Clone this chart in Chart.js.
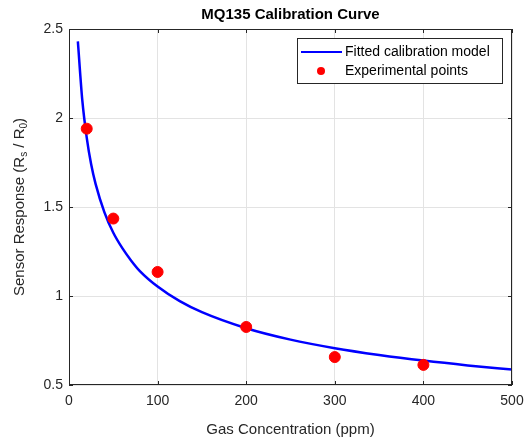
<!DOCTYPE html>
<html>
<head>
<meta charset="utf-8">
<script src="https://cdn.jsdelivr.net/npm/chart.js@4"></script>
<style>
  html, body { margin: 0; padding: 0; background: #fff; }
  #wrap { width: 527px; height: 441px; }
</style>
</head>
<body>
<div id="wrap"><canvas id="calChart" width="527" height="441"></canvas></div>
<script>
// valeurs
const modelX = [10, 15, 20, 25, 30, 40, 50, 60, 70, 80, 100, 125, 150, 200, 250, 300, 350, 400, 450, 500];
const modelY = [2.43, 2.10, 1.89, 1.74, 1.63, 1.47, 1.355, 1.27, 1.20, 1.14, 1.053, 0.971, 0.909, 0.819, 0.755, 0.707, 0.669, 0.637, 0.610, 0.587];
const expX = [20, 50, 100, 200, 300, 400];
const expY = [1.94, 1.435, 1.135, 0.826, 0.657, 0.613];
const xTicks = [0, 100, 200, 300, 400, 500];
const yTicks = [0.5, 1, 1.5, 2, 2.5];

const FONT = 'Arial, "Liberation Sans", Helvetica, sans-serif';

// cadre, titre, label Y avec indices, légende
const matlabLook = {
    id: 'matlabLook',
    afterDraw(chart) {
        const ctx = chart.ctx;
        const a = chart.chartArea;
        const xs = chart.scales.x, ys = chart.scales.y;
        ctx.save();
        // cadre
        ctx.strokeStyle = '#262626';
        ctx.lineWidth = 1;
        ctx.strokeRect(a.left + 0.5, a.top + 0.5, a.right - a.left - 1, a.bottom - a.top - 1);
        // petites graduations intérieures
        ctx.beginPath();
        xTicks.forEach(v => {
            const p = Math.round(xs.getPixelForValue(v)) + 0.5;
            ctx.moveTo(p, a.bottom); ctx.lineTo(p, a.bottom - 4);
            ctx.moveTo(p, a.top); ctx.lineTo(p, a.top + 4);
        });
        yTicks.forEach(v => {
            const p = Math.round(ys.getPixelForValue(v)) + 0.5;
            ctx.moveTo(a.left, p); ctx.lineTo(a.left + 4, p);
            ctx.moveTo(a.right, p); ctx.lineTo(a.right - 4, p);
        });
        ctx.stroke();

        // titre
        ctx.fillStyle = '#000';
        ctx.font = 'bold 15px ' + FONT;
        ctx.textAlign = 'center';
        ctx.textBaseline = 'middle';
        ctx.fillText('MQ135 Calibration Curve', (a.left + a.right) / 2, 15);

        // titre axe Y avec indices
        ctx.fillStyle = '#262626';
        ctx.translate(20, (a.top + a.bottom) / 2);
        ctx.rotate(-Math.PI / 2);
        const parts = [
            ['Sensor Response (R', 15, 0],
            ['s', 10, 4],
            [' / R', 15, 0],
            ['0', 10, 4],
            [')', 15, 0]
        ];
        let total = 0;
        parts.forEach(p => { ctx.font = p[1] + 'px ' + FONT; total += ctx.measureText(p[0]).width; });
        let x = -total / 2;
        ctx.textAlign = 'left';
        parts.forEach(p => {
            ctx.font = p[1] + 'px ' + FONT;
            ctx.fillText(p[0], x, p[2]);
            x += ctx.measureText(p[0]).width;
        });
        ctx.restore();

        // légende
        ctx.save();
        const lx = 297, ly = 38, lw = 205, lh = 45;
        ctx.fillStyle = '#fff';
        ctx.fillRect(lx, ly, lw, lh);
        ctx.strokeStyle = '#262626';
        ctx.lineWidth = 1;
        ctx.strokeRect(lx + 0.5, ly + 0.5, lw, lh);
        ctx.strokeStyle = '#0000ff';
        ctx.lineWidth = 2;
        ctx.beginPath();
        ctx.moveTo(lx + 4, ly + 14); ctx.lineTo(lx + 45, ly + 14);
        ctx.stroke();
        ctx.fillStyle = '#ff0000';
        ctx.beginPath();
        ctx.arc(lx + 24, ly + 33, 4, 0, Math.PI * 2);
        ctx.fill();
        ctx.fillStyle = '#000';
        ctx.font = '14px ' + FONT;
        ctx.textBaseline = 'middle';
        ctx.textAlign = 'left';
        ctx.fillText(chart.data.datasets[0].label, lx + 48, ly + 14);
        ctx.fillText(chart.data.datasets[1].label, lx + 48, ly + 33);
        ctx.restore();
    }
};

const ctx = document.getElementById('calChart').getContext('2d');
new Chart(ctx, {
    type: 'scatter',
    data: {
        datasets: [{
            type: 'line',
            label: 'Fitted calibration model',
            data: modelX.map((x, i) => ({ x: x, y: modelY[i] })),
            borderColor: '#0000ff',
            borderWidth: 2.5,
            pointRadius: 0,
            fill: false,
            cubicInterpolationMode: 'monotone',
            order: 2
        }, {
            label: 'Experimental points',
            data: expX.map((x, i) => ({ x: x, y: expY[i] })),
            backgroundColor: '#ff0000',
            borderColor: '#ff0000',
            pointRadius: 5.5,
            pointHoverRadius: 5.5,
            order: 1
        }]
    },
    options: {
        responsive: false,
        animation: false,
        layout: { padding: { left: 0, right: 15, top: 29, bottom: 0 } },
        plugins: {
            legend: { display: false },
            title: { display: false },
            tooltip: { enabled: false }
        },
        scales: {
            x: {
                type: 'linear',
                min: 0,
                max: 500,
                afterBuildTicks: s => { s.ticks = xTicks.map(v => ({ value: v })); },
                afterFit: s => { s.height = 56; s.paddingLeft = 0; s.paddingRight = 0; },
                grid: { color: '#e3e3e3', drawTicks: false },
                border: { display: false },
                ticks: { color: '#262626', font: { family: FONT, size: 14 }, padding: 8, maxRotation: 0 },
                title: {
                    display: true,
                    text: 'Gas Concentration (ppm)',
                    color: '#262626',
                    font: { family: FONT, size: 15 },
                    padding: { top: 4, bottom: 2 }
                }
            },
            y: {
                type: 'linear',
                min: 0.5,
                max: 2.5,
                afterBuildTicks: s => { s.ticks = yTicks.map(v => ({ value: v })); },
                afterFit: s => { s.width = 69; },
                grid: { color: '#e3e3e3', drawTicks: false },
                border: { display: false },
                ticks: {
                    color: '#262626',
                    font: { family: FONT, size: 14 },
                    padding: 6,
                    callback: v => String(v)
                }
            }
        }
    },
    plugins: [matlabLook]
});
</script>
</body>
</html>
